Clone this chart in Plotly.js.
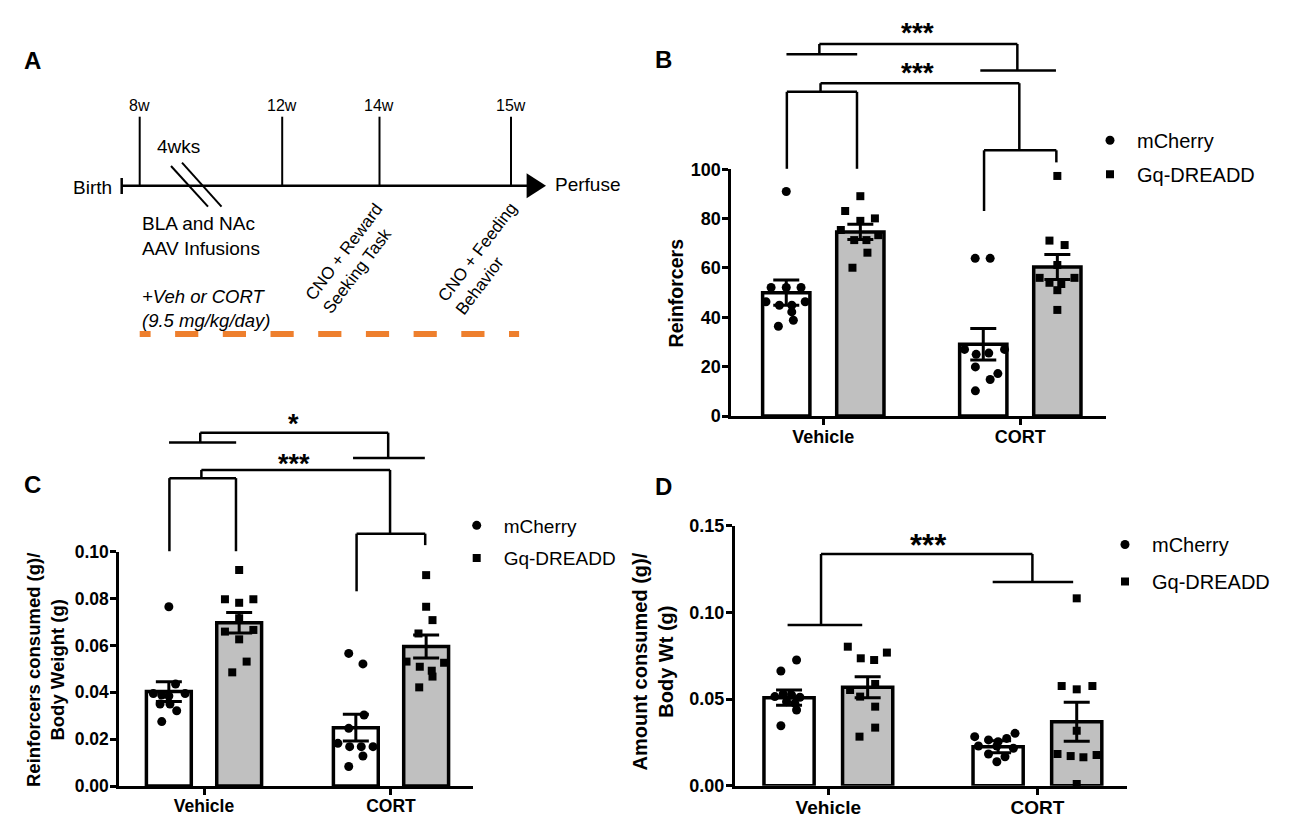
<!DOCTYPE html>
<html><head><meta charset="utf-8">
<script src="https://cdn.plot.ly/plotly-3.0.1.min.js"></script>
<style>html,body{margin:0;padding:0;background:#fff}#chart{width:1300px;height:836px}</style>
</head><body><div id="chart"></div>
<script>
// ================= DATA =================
const groups = ['Vehicle', 'CORT'];
const seriesNames = ['mCherry', 'Gq-DREADD'];

// Panel B : Reinforcers
const B_mCherry_mean = [50.0, 29.1];
const B_mCherry_sem  = [5.1, 6.4];
const B_gq_mean      = [74.6, 60.4];
const B_gq_sem       = [3.1, 5.1];
const B_mCherry_vehicle = [91.0, 52.1, 52.1, 52.1, 46.3, 44.9, 44.9, 46.3, 42.2, 36.4, 38.8];
const B_mCherry_cort    = [63.9, 63.9, 27.0, 27.0, 25.0, 25.5, 19.9, 17.2, 14.8, 10.2];
const B_gq_vehicle      = [89.1, 83.1, 80.1, 79.1, 75.4, 73.3, 71.3, 71.3, 66.2, 60.1];
const B_gq_cort         = [97.3, 71.1, 69.3, 61.2, 56.0, 56.0, 54.0, 53.5, 51.0, 43.0];

// Panel C : Reinforcers consumed (g) / Body Weight (g)
const C_mCherry_mean = [0.0403, 0.0249];
const C_mCherry_sem  = [0.0042, 0.0057];
const C_gq_mean      = [0.0697, 0.0595];
const C_gq_sem       = [0.0044, 0.0049];
const C_mCherry_vehicle = [0.0765, 0.0435, 0.0395, 0.0395, 0.0388, 0.0384, 0.0350, 0.0350, 0.0321, 0.0275];
const C_mCherry_cort    = [0.0566, 0.0521, 0.0303, 0.0246, 0.0182, 0.0168, 0.0168, 0.0168, 0.0128, 0.0083];
const C_gq_vehicle      = [0.0922, 0.0797, 0.0797, 0.0782, 0.0716, 0.0659, 0.0666, 0.0626, 0.0531, 0.0485];
const C_gq_cort         = [0.0900, 0.0765, 0.0708, 0.0651, 0.0531, 0.0526, 0.0509, 0.0492, 0.0467, 0.0421];

// Panel D : Amount consumed (g) / Body Wt (g)
const D_mCherry_mean = [0.0508, 0.0225];
const D_mCherry_sem  = [0.0044, 0.0035];
const D_gq_mean      = [0.0568, 0.0369];
const D_gq_sem       = [0.0061, 0.0112];
const D_mCherry_vehicle = [0.0725, 0.0662, 0.0514, 0.0529, 0.0523, 0.0510, 0.0485, 0.0475, 0.0437, 0.0346];
const D_mCherry_cort    = [0.0283, 0.0302, 0.0264, 0.0254, 0.0273, 0.0229, 0.0229, 0.0216, 0.0183, 0.0167, 0.0138];
const D_gq_vehicle      = [0.0802, 0.0768, 0.0735, 0.0725, 0.0587, 0.0552, 0.0514, 0.0456, 0.0335, 0.0283];
const D_gq_cort         = [0.1081, 0.0575, 0.0556, 0.0575, 0.0317, 0.0183, 0.0171, 0.0164, 0.0177, 0.0010];

// Panel A timeline labels
const weekLabels = ['8w', '12w', '14w', '15w'];

// ================= LAYOUT / STYLE =================
const W = 1300, H = 836;
const F = 'Liberation Sans, Arial, Helvetica, sans-serif';
const X = p => p / W, Y = p => 1 - p / H;
const BAR_OFF = 0.188, BAR_W = 0.24;

// horizontal jitter of the dots (in group units)
const jitter = {
  B: { mv: [0, -0.077, 0, 0.075, -0.103, -0.035, 0.028, 0.096, 0.028, -0.04, 0.036],
       mc: [-0.041, 0.035, -0.095, 0.108, -0.036, 0.028, -0.04, 0.074, 0.035, -0.04],
       gv: [0, -0.077, 0.074, 0, -0.099, 0.091, -0.031, 0.031, 0.036, -0.04],
       gc: [0, -0.04, 0.037, 0, -0.09, 0.087, -0.04, 0.02, 0, 0] },
  C: { mv: [0, 0.036, -0.083, 0.087, -0.038, 0, -0.047, 0.006, 0.042, -0.038],
       mc: [-0.038, 0.038, 0.044, -0.038, -0.096, -0.033, 0.029, 0.092, 0.038, -0.038],
       gv: [0, -0.076, 0.076, 0, 0, -0.076, 0.076, 0, 0.04, -0.037],
       gc: [0, 0, 0.034, -0.041, -0.105, 0.096, -0.034, 0.03, 0.034, -0.037] },
  D: { mv: [0.036, -0.039, -0.068, -0.028, 0.012, 0.052, -0.012, 0.028, 0.036, -0.039],
       mc: [-0.112, 0.081, -0.046, 0, 0.041, -0.094, -0.006, 0.073, -0.046, 0.033, -0.006],
       gv: [-0.095, 0.092, -0.033, 0.031, 0.036, -0.084, -0.036, 0.036, 0.036, -0.039],
       gc: [0, -0.072, 0, 0.075, 0, -0.092, -0.029, 0.032, 0.095, 0] }
};

// bracket geometry: [x0,y0,x1,y1] with x in group units, y as fraction of the top tick
const bracketBC = [
  [-0.02,1.508,0.985,1.508],[-0.02,1.508,-0.02,1.466],[-0.187,1.466,0.172,1.466],
  [0.985,1.508,0.985,1.400],[0.797,1.400,1.181,1.400],
  [-0.014,1.349,0.995,1.349],[-0.014,1.349,-0.014,1.314],[-0.185,1.314,0.171,1.314],
  [-0.185,1.314,-0.185,1.002],[0.171,1.314,0.171,1.002],
  [0.995,1.349,0.995,1.077],[0.816,1.077,1.183,1.077],[0.816,1.077,0.816,0.831],[1.183,1.077,1.183,1.028]
];
const bracketD = [
  [-0.035,0.8913,0.976,0.8913],[-0.035,0.8913,-0.035,0.618],[-0.195,0.618,0.162,0.618],
  [0.976,0.8913,0.976,0.7833],[0.786,0.7833,1.171,0.7833]
];

const panels = [
  { key:'B', xa:'x', ya:'y', lg:'legend', xd:[731.3,1105.9], xr:[-0.467,1.4345], y0:416, yTop:169.3,
    ymax:100, ticks:[0,20,40,60,80,100], fmt:'', tickSize:18, catSize:18,
    mMean:B_mCherry_mean, mSem:B_mCherry_sem, gMean:B_gq_mean, gSem:B_gq_sem,
    mPts:[B_mCherry_vehicle,B_mCherry_cort], gPts:[B_gq_vehicle,B_gq_cort],
    brackets:bracketBC, stars:[['***',1.555,28],['***',1.392,28]] },
  { key:'C', xa:'x2', ya:'y2', lg:'legend2', xd:[119.3,472.7], xr:[-0.453,1.437], y0:786, yTop:551.7,
    ymax:0.10, ticks:[0,0.02,0.04,0.06,0.08,0.10], fmt:'.2f', tickSize:17.5, catSize:17.5,
    mMean:C_mCherry_mean, mSem:C_mCherry_sem, gMean:C_gq_mean, gSem:C_gq_sem,
    mPts:[C_mCherry_vehicle,C_mCherry_cort], gPts:[C_gq_vehicle,C_gq_cort],
    brackets:bracketBC, stars:[['*',1.547,27],['***',1.374,27]] },
  { key:'D', xa:'x3', ya:'y3', lg:'legend3', xd:[734.9,1126.9], xr:[-0.447,1.428], y0:785.7, yTop:525.7,
    ymax:0.15, ticks:[0,0.05,0.10,0.15], fmt:'.2f', tickSize:18, catSize:19,
    mMean:D_mCherry_mean, mSem:D_mCherry_sem, gMean:D_gq_mean, gSem:D_gq_sem,
    mPts:[D_mCherry_vehicle,D_mCherry_cort], gPts:[D_gq_vehicle,D_gq_cort],
    brackets:bracketD, stars:[['***',0.923,31]] }
];

const legendPos = {
  legend:  { left:1083, top:120.7, size:20, gap:5 },
  legend2: { left:449.7, top:506.5, size:19, gap:5 },
  legend3: { left:1098,  top:525,   size:20, gap:8 }
};

const traces = [], shapes = [], annotations = [];
const layout = {
  width: W, height: H, margin: {l:0, r:0, t:0, b:0},
  paper_bgcolor: '#fff', plot_bgcolor: 'rgba(0,0,0,0)',
  font: {family: F, color: '#000'},
  barmode: 'overlay', showlegend: true,
  shapes: shapes, annotations: annotations
};

Object.keys(legendPos).forEach(k => {
  const L = legendPos[k];
  layout[k] = { x: X(L.left), y: Y(L.top), xanchor:'left', yanchor:'top', bgcolor:'rgba(0,0,0,0)',
    borderwidth: 0, itemwidth: 44, tracegroupgap: L.gap, traceorder:'grouped',
    font: {family: F, size: L.size, color: '#000'} };
});

panels.forEach(p => {
  const xName = 'xaxis' + p.xa.slice(1), yName = 'yaxis' + p.ya.slice(1);
  layout[xName] = { domain:[X(p.xd[0]), X(p.xd[1])], range:p.xr, anchor:p.ya,
    tickvals:groups.map((g,i)=>i), ticktext:groups, showline:true, linewidth:3, linecolor:'#000',
    ticks:'outside', ticklen:6, tickwidth:3, tickcolor:'#000', showgrid:false, zeroline:false,
    ticklabelstandoff:-4,
    tickfont:{family:F, size:p.catSize, weight:'bold', color:'#000'}, fixedrange:true };
  layout[yName] = { domain:[Y(p.y0), Y(p.yTop)], range:[0, p.ymax], anchor:p.xa,
    tickvals:p.ticks, tickformat:p.fmt, showline:true, linewidth:3, linecolor:'#000',
    ticks:'outside', ticklen:6, tickwidth:3, tickcolor:'#000', showgrid:false, zeroline:false,
    ticklabelstandoff:-2,
    tickfont:{family:F, size:p.tickSize, weight:'bold', color:'#000'}, fixedrange:true };

  const J = jitter[p.key];
  // bars
  traces.push({ type:'bar', xaxis:p.xa, yaxis:p.ya, x:groups.map((g,i)=>i-BAR_OFF), y:p.mMean, width:BAR_W,
    marker:{color:'#ffffff', line:{color:'#000', width:3.5}}, showlegend:false, hoverinfo:'skip',
    error_y:{type:'data', array:p.mSem, visible:true, color:'#000', thickness:3, width:13} });
  traces.push({ type:'bar', xaxis:p.xa, yaxis:p.ya, x:groups.map((g,i)=>i+BAR_OFF), y:p.gMean, width:BAR_W,
    marker:{color:'#c0c0c0', line:{color:'#000', width:3.5}}, showlegend:false, hoverinfo:'skip',
    error_y:{type:'data', array:p.gSem, visible:true, color:'#000', thickness:3, width:13} });
  // dots
  const mx = [], my = [], gx = [], gy = [];
  p.mPts.forEach((arr, i) => arr.forEach((v, j) => { mx.push(i - BAR_OFF + (i ? J.mc : J.mv)[j]); my.push(v); }));
  p.gPts.forEach((arr, i) => arr.forEach((v, j) => { gx.push(i + BAR_OFF + (i ? J.gc : J.gv)[j]); gy.push(v); }));
  traces.push({ type:'scatter', mode:'markers', xaxis:p.xa, yaxis:p.ya, x:mx, y:my, name:seriesNames[0],
    legend:p.lg, legendgroup:p.key+'m', cliponaxis:false, hoverinfo:'skip',
    marker:{symbol:'circle', size:9, color:'#000'} });
  traces.push({ type:'scatter', mode:'markers', xaxis:p.xa, yaxis:p.ya, x:gx, y:gy, name:seriesNames[1],
    legend:p.lg, legendgroup:p.key+'g', cliponaxis:false, hoverinfo:'skip',
    marker:{symbol:'square', size:8, color:'#000'} });

  // significance brackets (domain refs so they are not clipped)
  const fx = v => (v - p.xr[0]) / (p.xr[1] - p.xr[0]);
  p.brackets.forEach(s => shapes.push({ type:'line', xref:p.xa+' domain', yref:p.ya+' domain',
    x0:fx(s[0]), y0:s[1], x1:fx(s[2]), y1:s[3], line:{color:'#000', width:2.5} }));
  p.stars.forEach(s => annotations.push({ text:s[0], xref:p.xa+' domain', yref:p.ya+' domain',
    x:fx(0.48), y:s[1], showarrow:false, xanchor:'center', yanchor:'middle',
    font:{family:F, size:s[2], weight:'bold', color:'#000'} }));
});

// ---------- helpers in pixel space ----------
function pline(x0,y0,x1,y1,w,c){ shapes.push({type:'line', xref:'paper', yref:'paper',
  x0:X(x0), y0:Y(y0), x1:X(x1), y1:Y(y1), line:{color:c||'#000', width:w}}); }
function ptext(t,x,y,o){ annotations.push(Object.assign({text:t, xref:'paper', yref:'paper',
  x:X(x), y:Y(y), showarrow:false, xanchor:'center', yanchor:'middle',
  font:{family:F, size:18, color:'#000'}}, o||{})); }

// panel letters
[['A',32.6,60],['B',663.1,59.3],['C',32.7,485],['D',663.3,486.7]].forEach(l =>
  ptext(l[0], l[1], l[2], {font:{family:F, size:24, weight:'bold', color:'#000'}}));

// y-axis titles
ptext('Reinforcers', 675.8, 292.6, {textangle:-90, font:{family:F, size:19.5, weight:'bold', color:'#000'}});
ptext('Reinforcers consumed (g)/<br>Body Weight (g)', 45, 670, {textangle:-90,
  font:{family:F, size:18.5, weight:'bold', color:'#000'}});
ptext('Amount consumed (g)/<br>Body Wt (g)', 652.5, 662, {textangle:-90,
  font:{family:F, size:20, weight:'bold', color:'#000'}});

// ---------- Panel A : timeline ----------
const tlY = 185.7;
pline(121.7, tlY, 528, tlY, 2.5);
pline(121.7, 178, 121.7, 194, 2.5);
const weekX = [139.7, 282.2, 379.5, 511];
weekX.forEach((x, i) => { pline(x, 116.7, x, tlY, 2); ptext(weekLabels[i], x, 105.7, {font:{family:F, size:16, color:'#000'}}); });
shapes.push({type:'path', xref:'paper', yref:'paper', fillcolor:'#000', line:{width:0},
  path:'M'+X(526.6)+','+Y(173.3)+' L'+X(546)+','+Y(tlY)+' L'+X(526.6)+','+Y(198.3)+' Z'});
pline(171, 166, 208, 206.7, 2);
pline(182, 162.7, 221.5, 206.7, 2);
ptext('Birth', 114, 187.3, {xanchor:'right', font:{family:F, size:19, color:'#000'}});
ptext('Perfuse', 553, 184.5, {xanchor:'left', font:{family:F, size:19, color:'#000'}});
ptext('4wks', 178, 146.7, {font:{family:F, size:19, color:'#000'}});
ptext('BLA and NAc<br>AAV Infusions', 139.7, 235.7, {xanchor:'left', align:'left', font:{family:F, size:19, color:'#000'}});
ptext('CNO + Reward<br>Seeking Task', 352.9, 258.5, {textangle:-53, align:'left', font:{family:F, size:17, color:'#000'}});
ptext('CNO + Feeding<br>Behavior', 486.6, 258.5, {textangle:-53, align:'left', font:{family:F, size:17, color:'#000'}});
ptext('<i>+Veh or CORT</i><br><i>(9.5 mg/kg/day)</i>', 139.7, 308, {xanchor:'left', align:'left', font:{family:F, size:18.5, color:'#000'}});
// orange dashed treatment bar
for (let s = 127.4; s < 519.1; s += 47.7) {
  const a = Math.max(s, 139.7), b = Math.min(s + 23.2, 519.1);
  if (b > a) pline(a, 334, b, 334, 6, '#ee7f2d');
}

Plotly.newPlot('chart', traces, layout, {displayModeBar:false, staticPlot:true});
</script>
</body></html>
